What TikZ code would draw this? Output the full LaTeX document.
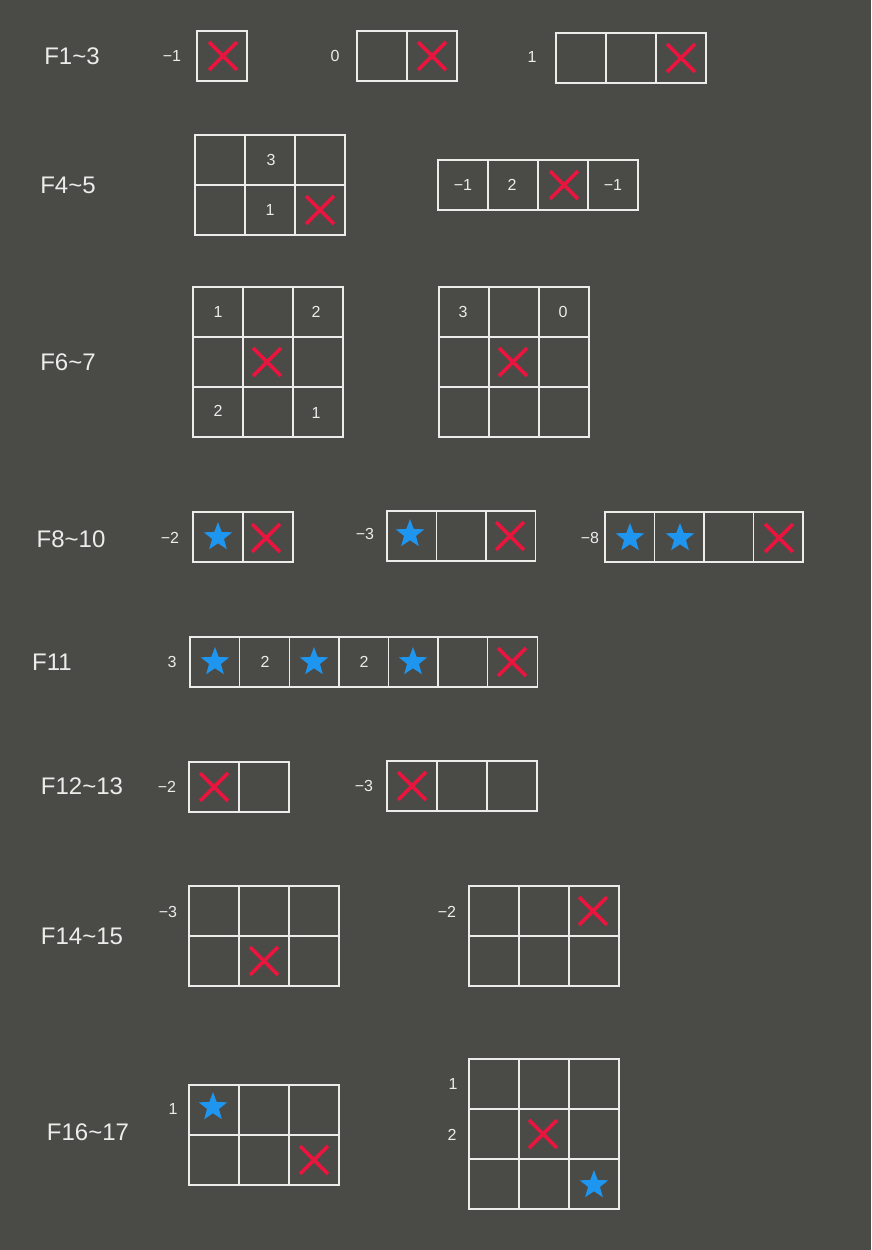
\documentclass[tikz,border=0pt]{standalone}
\usepackage{fontspec}
\setmainfont{Liberation Sans}
\usetikzlibrary{shapes.geometric,shapes.misc}
\definecolor{bg}{RGB}{74,74,70}
\definecolor{gridc}{RGB}{236,236,234}
\definecolor{xred}{RGB}{232,22,62}
\definecolor{starblue}{RGB}{30,150,240}
\tikzset{
  title/.style={text=gridc, font=\fontsize{24}{28}\selectfont, inner sep=0pt},
  num/.style={text=gridc, font=\fontsize{16}{19}\selectfont, inner sep=0pt},
  gridline/.style={draw=gridc, line width=1.4pt},
  xmk/.style={cross out, draw=xred, line width=3.8pt, minimum size=24pt, inner sep=0pt},
  stmk/.style={star, star points=5, star point ratio=2.4, fill=starblue, minimum size=30pt, inner sep=0pt, draw=none},
}
% #1 x0, #2 y0, #3 cols, #4 rows, #5 cell width
\newcommand\cellgrid[5]{%
  \foreach \i in {1,...,#3}{\foreach \j in {1,...,#4}{%
    \draw[gridline] ({#1+(\i-1)*#5},{#2+(\j-1)*50}) rectangle ++(#5,50);}}}
\begin{document}
\begin{tikzpicture}[x=1pt,y=-1pt]
\fill[bg] (0,0) rectangle (871,1250);
\useasboundingbox (0,0) rectangle (871,1250);

% titles
\node[title] (t1) at (72,56) {F1\textasciitilde3};
\node[title] (t2) at (68,185) {F4\textasciitilde5};
\node[title] (t3) at (68,362) {F6\textasciitilde7};
\node[title] (t4) at (71,539) {F8\textasciitilde10};
\node[title] (t5) at (52,662) {F11};
\node[title] (t6) at (82,786) {F12\textasciitilde13};
\node[title] (t7) at (82,936) {F14\textasciitilde15};
\node[title] (t8) at (88,1132) {F16\textasciitilde17};

% F1~3
\cellgrid{197}{31}{1}{1}{50}
\cellgrid{357}{31}{2}{1}{50}
\cellgrid{556}{33}{3}{1}{50}
\node[num] (n1) at (172,56) {−1};
\node[num] (n2) at (335,56) {0};
\node[num] (n3) at (532,57) {1};
\node[xmk] (x1) at (223,56) {};
\node[xmk] (x2) at (432,56) {};
\node[xmk] (x3) at (681,58) {};

% F4~5
\cellgrid{195}{135}{3}{2}{50}
\cellgrid{438}{160}{4}{1}{50}
\node[num] (n4) at (271,160) {3};
\node[num] (n5) at (270,210) {1};
\node[xmk] (x4) at (320,210) {};
\node[num] (n6) at (463,185) {−1};
\node[num] (n7) at (512,185) {2};
\node[xmk] (x5) at (564,185) {};
\node[num] (n8) at (613,185) {−1};

% F6~7
\cellgrid{193}{287}{3}{3}{50}
\cellgrid{439}{287}{3}{3}{50}
\node[num] (n9) at (218,312) {1};
\node[num] (n10) at (316,312) {2};
\node[num] (n11) at (218,411) {2};
\node[num] (n12) at (316,413) {1};
\node[xmk] (x6) at (267,362) {};
\node[num] (n13) at (463,312) {3};
\node[num] (n14) at (563,312) {0};
\node[xmk] (x7) at (513,362) {};

% F8~10
\cellgrid{193}{512}{2}{1}{50}
\cellgrid{387}{511}{3}{1}{49.5}
\cellgrid{605}{512}{4}{1}{49.5}
\node[num] (n15) at (170,538) {−2};
\node[stmk] (s1) at (218,537) {};
\node[xmk] (x8) at (266,538) {};
\node[num] (n16) at (365,534) {−3};
\node[stmk] (s2) at (410,534) {};
\node[xmk] (x9) at (510,536) {};
\node[num] (n17) at (590,538) {−8};
\node[stmk] (s3) at (630,538) {};
\node[stmk] (s4) at (680,538) {};
\node[xmk] (x10) at (779,538) {};

% F11
\cellgrid{190}{637}{7}{1}{49.6}
\node[num] (n18) at (172,662) {3};
\node[stmk] (s5) at (215,662) {};
\node[num] (n19) at (265,662) {2};
\node[stmk] (s6) at (314,662) {};
\node[num] (n20) at (364,662) {2};
\node[stmk] (s7) at (413,662) {};
\node[xmk] (x11) at (512,662) {};

% F12~13
\cellgrid{189}{762}{2}{1}{50}
\cellgrid{387}{761}{3}{1}{50}
\node[num] (n21) at (167,787) {−2};
\node[xmk] (x12) at (214,787) {};
\node[num] (n22) at (364,786) {−3};
\node[xmk] (x13) at (412,786) {};

% F14~15
\cellgrid{189}{886}{3}{2}{50}
\cellgrid{469}{886}{3}{2}{50}
\node[num] (n23) at (168,912) {−3};
\node[xmk] (x14) at (264,961) {};
\node[num] (n24) at (447,912) {−2};
\node[xmk] (x15) at (593,911) {};

% F16~17
\cellgrid{189}{1085}{3}{2}{50}
\cellgrid{469}{1059}{3}{3}{50}
\node[num] (n25) at (173,1109) {1};
\node[stmk] (s8) at (213,1107) {};
\node[xmk] (x16) at (314,1160) {};
\node[num] (n26) at (453,1084) {1};
\node[num] (n27) at (452,1135) {2};
\node[xmk] (x17) at (543,1134) {};
\node[stmk] (s9) at (594,1185) {};
\end{tikzpicture}
\end{document}
